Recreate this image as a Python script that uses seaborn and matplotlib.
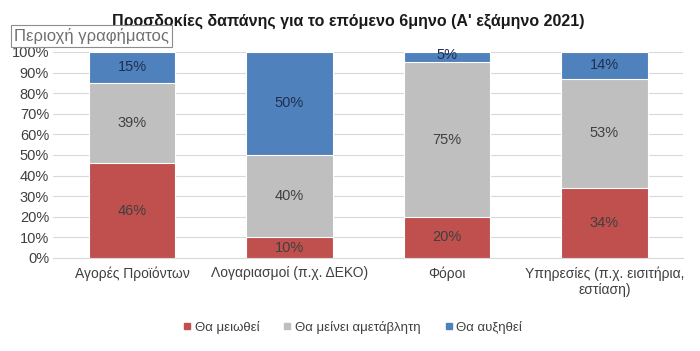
import numpy as np
import pandas as pd
import seaborn as sns
import matplotlib.pyplot as plt
from matplotlib.ticker import PercentFormatter

categories = ['Αγορές Προϊόντων', 'Λογαριασμοί (π.χ. ΔΕΚΟ)', 'Φόροι',
              'Υπηρεσίες (π.χ. εισιτήρια,\nεστίαση)']
decrease = [46, 10, 20, 34]
same = [39, 40, 75, 53]
increase = [15, 50, 5, 14]
series_names = ['Θα μειωθεί', 'Θα μείνει αμετάβλητη', 'Θα αυξηθεί']
colours = ['#C0504D', '#BFBFBF', '#4F81BD']

sns.set_style('white')
plt.rcParams['font.family'] = ['Liberation Sans', 'DejaVu Sans']

df = pd.DataFrame({'cat': categories, 'dec': decrease, 'same': same, 'inc': increase})
df['top1'] = df['dec']
df['top2'] = df['dec'] + df['same']
df['top3'] = (df['top2'] + df['inc']).clip(upper=100)

fig = plt.figure(figsize=(7, 3.51), dpi=100)
ax = fig.add_axes([0.076, 0.265, 0.9, 0.587])

# draw cumulative heights from the top down so the stack shows
sns.barplot(data=df, x='cat', y='top3', color=colours[2], width=0.55, saturation=1, ax=ax, zorder=2)
sns.barplot(data=df, x='cat', y='top2', color=colours[1], width=0.55, saturation=1, ax=ax, zorder=3)
sns.barplot(data=df, x='cat', y='top1', color=colours[0], width=0.55, saturation=1, ax=ax, zorder=4)
for p in ax.patches:
    p.set_edgecolor('white')
    p.set_linewidth(0.8)

# value labels
for i in range(len(categories)):
    lo = 0
    for val, col in zip([decrease[i], same[i], increase[i]], ['#404040', '#404040', '#1F3050']):
        hi = min(lo + val, 100)
        mid = (lo + hi) / 2
        if val <= 6:
            mid = hi - 1.5
        ax.text(i, mid, f'{val}%', ha='center', va='center', fontsize=10.5,
                color=col, zorder=6)
        lo = hi

ax.set_ylim(0, 100)
ax.set_xlim(-0.5, 3.5)
ax.set_yticks(np.arange(0, 101, 10))
ax.yaxis.set_major_formatter(PercentFormatter(decimals=0))
ax.grid(axis='y', color='#D9D9D9', linewidth=0.8, zorder=0)
ax.set_axisbelow(True)
ax.set_xlabel('')
ax.set_ylabel('')
for s in ['top', 'right', 'left']:
    ax.spines[s].set_visible(False)
ax.spines['bottom'].set_color('#D9D9D9')
ax.tick_params(axis='y', length=0, labelsize=10.5, colors='#404040', pad=3)
ax.tick_params(axis='x', length=0, labelsize=10, colors='#404040', pad=6)

fig.text(0.497, 0.94, "Προσδοκίες δαπάνης για το επόμενο 6μηνο (Α' εξάμηνο 2021)",
         ha='center', va='center', fontsize=11.5, fontweight='bold', color='#1a1a1a')

fig.text(0.02, 0.897, 'Περιοχή γραφήματος', ha='left', va='center', fontsize=12,
         color='#707070',
         bbox=dict(boxstyle='square,pad=0.2', facecolor='white', edgecolor='#8c8c8c', linewidth=0.8))

handles = [plt.Line2D([], [], marker='s', linestyle='', markersize=5, color=c) for c in colours]
fig.legend(handles, series_names, loc='center', bbox_to_anchor=(0.502, 0.068), ncol=3,
           frameon=False, fontsize=9.5, handletextpad=0.1, columnspacing=1.6,
           handlelength=1.0, labelcolor='#404040')

fig.savefig('out.png', dpi=100)
